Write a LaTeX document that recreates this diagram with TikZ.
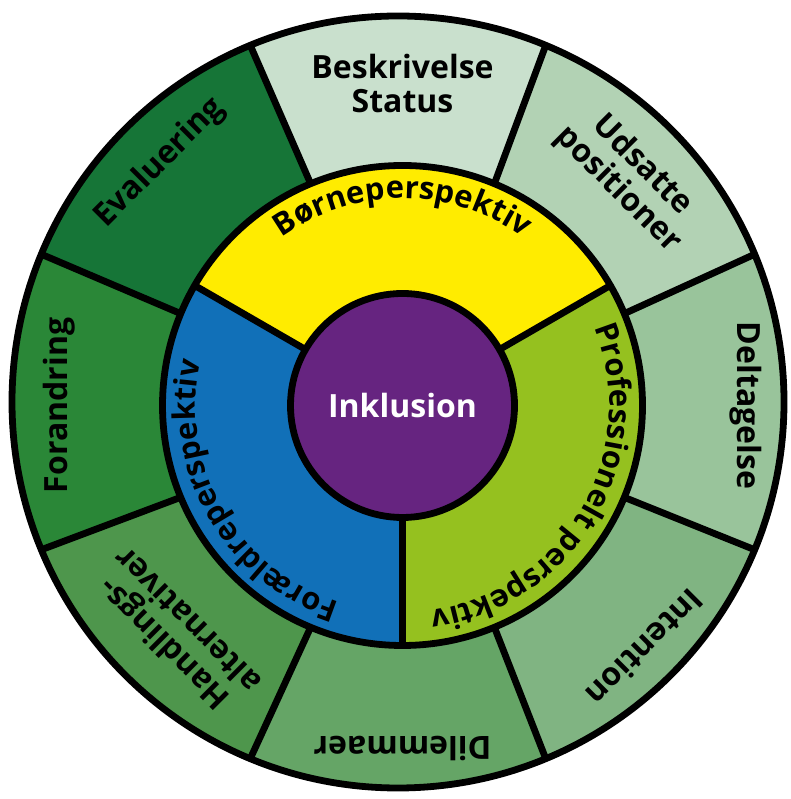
\documentclass[tikz,border=0pt]{standalone}
\usepackage{fontspec}
\setmainfont{Open Sans}
\usetikzlibrary{decorations.text}

\definecolor{inklusion}{RGB}{102,36,128}
\definecolor{boern}{RGB}{255,236,0}
\definecolor{profgreen}{RGB}{149,193,31}
\definecolor{foraelder}{RGB}{17,112,184}
\definecolor{beskr}{RGB}{201,224,205}
\definecolor{udsat}{RGB}{178,210,180}
\definecolor{delt}{RGB}{153,196,155}
\definecolor{inten}{RGB}{128,180,130}
\definecolor{dilem}{RGB}{101,165,102}
\definecolor{handl}{RGB}{78,150,76}
\definecolor{foran}{RGB}{42,135,55}
\definecolor{evalu}{RGB}{22,117,55}

\tikzset{
  ring/.style={draw=black, line width=6.8pt, line join=round},
  seglabel/.style={font=\bfseries\fontsize{32}{34}\selectfont, align=center, inner sep=0pt},
  arclabel/.style={decorate, decoration={text along path, text align=center,
      text={|\bfseries\fontsize{31}{31}\selectfont|#1}}},
}

\begin{document}
\begin{tikzpicture}[x=1pt, y=1pt]
  \useasboundingbox (0,0) rectangle (790,799);
  \coordinate (oc) at (398,397);
  \coordinate (ic) at (402.5,393.5);

  % outer ring
  \foreach \ang/\col in {90/beskr, 45/udsat, 0/delt, -45/inten, -90/dilem, -135/handl, 180/foran, 135/evalu}
    \fill[\col] ([shift={(\ang-22.5:240)}]ic) -- ([shift={(\ang-22.5:386)}]oc)
      arc[start angle=\ang-22.5, end angle=\ang+22.5, radius=386]
      -- ([shift={(\ang+22.5:240)}]ic) arc[start angle=\ang+22.5, end angle=\ang-22.5, radius=240] -- cycle;

  % perspectives
  \foreach \a/\col in {30/boern, -90/profgreen, 150/foraelder}
    \fill[\col] (ic) -- ([shift={(\a:240)}]ic) arc[start angle=\a, end angle=\a+120, radius=240] -- cycle;

  \foreach \a in {22.5,67.5,...,337.5}
    \draw[ring] ([shift={(\a:240)}]ic) -- ([shift={(\a:386)}]oc);
  \foreach \a in {30,150,270}
    \draw[ring] ([shift={(\a:112)}]ic) -- ([shift={(\a:240)}]ic);
  \draw[ring] (oc) circle[radius=386];
  \draw[ring] (ic) circle[radius=240];
  \draw[ring, fill=inklusion] (ic) circle[radius=112];

  \node (incl) at (ic) [font=\bfseries\fontsize{32}{34}\selectfont, text=white] {Inklusion};

  % labels along the middle ring
  \path[arclabel=Børneperspektiv] ([shift={(150:207)}]ic) arc[start angle=150, end angle=30, radius=207];
  \path[arclabel=Professionelt perspektiv] ([shift={(30:207)}]ic) arc[start angle=30, end angle=-90, radius=207];
  \path[arclabel=Forældreperspektiv] ([shift={(270:207)}]ic) arc[start angle=270, end angle=150, radius=207];

  % labels in the outer ring
  \foreach \ang/\r/\txt [count=\i] in {90/322/{Beskrivelse\\Status}, 45/322/{Udsatte\\positioner},
      0/343/Deltagelse, -45/343/Intention, -90/343/Dilemmaer, -135/322/{Handlings-\\alternativer},
      180/343/Forandring, 135/343/Evaluering}
    \node (lbl\i) at ([shift={(\ang:\r)}]ic) [seglabel, rotate=\ang-90] {\txt};
\end{tikzpicture}
\end{document}
